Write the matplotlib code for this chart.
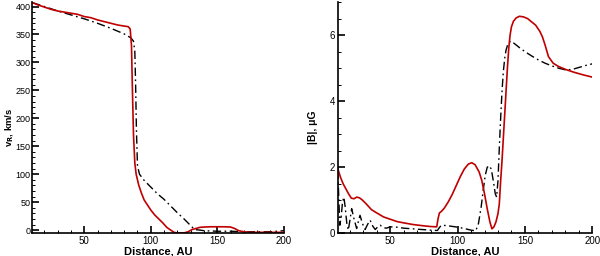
import numpy as np
import matplotlib
matplotlib.use('Agg')
import matplotlib.pyplot as plt
from matplotlib.ticker import MultipleLocator

plt.rcParams['font.family'] = ['Liberation Sans', 'DejaVu Sans']

# Left panel: radial velocity, km/s
vr_red_x = [11, 15, 20, 25, 30, 35, 40, 45, 50, 55, 60, 65, 70, 75, 80, 83,
            84.5, 85.5, 86.2, 87, 88, 89, 91, 93, 95, 97.5, 100, 103, 106, 109,
            112, 115, 117.5, 120, 125, 128, 131, 134, 137, 140, 145, 150, 155,
            160, 163, 166, 170, 175, 180, 190, 200]
vr_red_y = [407, 403, 399, 395, 392, 390, 388, 386, 382, 380, 376, 373, 370,
            367, 365, 364, 360, 330, 250, 170, 120, 100, 80, 66, 54, 45, 36,
            27, 20, 13, 5, 0, -4, -5, -5, -3, 1, 3, 5, 5.5, 6, 6, 6, 5.5, 3,
            -1, -3, -4, -4, -4, -4]

vr_black_x = [11, 20, 30, 40, 50, 60, 70, 80, 85, 87, 88, 88.6, 89.2, 90,
              91.5, 95, 100, 105, 110, 115, 120, 125, 130, 133, 137, 140, 150,
              160, 170, 180, 190, 200]
vr_black_y = [407, 400, 392, 385, 378, 370, 361, 351, 344, 338, 320, 260, 180,
              115, 100, 89, 77, 65, 55, 43, 31, 20, 8, 1, 0, -1, -2, -2, -3,
              -3, -3, -1]

# Right panel: magnetic field magnitude, microgauss
b_red_x = [11, 13, 15, 17, 19, 21, 23, 25, 27, 29, 32, 36, 40, 45, 50, 55, 60,
           67, 75, 80, 84.5, 85.5, 86.5, 88, 90, 93, 96, 99, 102, 105, 108,
           110.5, 113, 116, 118, 120, 122, 124, 125.5, 127, 128.5, 130, 131,
           132, 133, 134, 135, 136, 137, 138, 139, 140, 141.5, 143.5, 146, 149,
           152, 155, 158, 161, 163, 165, 167.5, 171, 175, 181, 187, 194, 200]
b_red_y = [1.96, 1.7, 1.5, 1.35, 1.2, 1.07, 1.05, 1.1, 1.08, 1.02, 0.9, 0.72,
           0.62, 0.5, 0.43, 0.36, 0.32, 0.27, 0.23, 0.21, 0.2, 0.45, 0.62,
           0.67, 0.76, 0.95, 1.18, 1.45, 1.72, 1.95, 2.1, 2.14, 2.08, 1.86,
           1.6, 1.2, 0.75, 0.35, 0.14, 0.2, 0.35, 0.6, 0.9, 1.6, 2.2, 2.9,
           3.6, 4.3, 5.0, 5.6, 6.0, 6.25, 6.42, 6.52, 6.57, 6.55, 6.5, 6.4,
           6.3, 6.12, 5.95, 5.7, 5.35, 5.15, 5.05, 4.95, 4.87, 4.79, 4.73]

b_black_x = [11, 11.8, 12.5, 13.5, 14.5, 15.5, 16.5, 17.7, 18.8, 20, 21.3, 23,
             25, 26.2, 27.5, 29.3, 31.3, 33.2, 35, 37, 38.8, 40.7, 42.5, 44.5,
             47, 50, 55, 60, 70, 80, 85, 86.5, 88, 91, 95, 100, 105, 110,
             113.5, 115.5, 117.5, 119, 120.5, 122, 123.5, 125, 126.5, 128, 129,
             130, 131, 132, 133, 134, 135, 136, 137.5, 139.5, 142, 146, 150,
             155, 160, 165, 170, 175, 180, 185, 190, 195, 200]
b_black_y = [1.9, 1.0, 0.25, 0.5, 0.95, 1.1, 0.8, 0.3, 0.1, 0.4, 0.75, 0.45,
             0.15, 0.35, 0.55, 0.3, 0.12, 0.28, 0.4, 0.22, 0.12, 0.2, 0.25,
             0.18, 0.16, 0.2, 0.19, 0.16, 0.13, 0.1, 0.09, 0.18, 0.25, 0.24,
             0.22, 0.19, 0.15, 0.1, 0.08, 0.3, 0.8, 1.3, 1.75, 2.0, 2.05, 1.95,
             1.6, 1.2, 1.1, 1.6, 2.6, 3.5, 4.3, 4.9, 5.3, 5.55, 5.75, 5.82,
             5.75, 5.62, 5.5, 5.37, 5.25, 5.15, 5.07, 5.0, 4.95, 4.96, 5.02,
             5.08, 5.13]

red = '#c00000'
dashdot = (0, (6, 2.5, 1.2, 2.5))

fig = plt.figure(figsize=(6, 2.56), dpi=100)
ax1 = fig.add_axes([0.054, 0.088, 0.419, 0.904])
ax2 = fig.add_axes([0.563, 0.088, 0.424, 0.904])

ax1.plot(vr_black_x, vr_black_y, color='black', lw=1.0, linestyle=dashdot)
ax1.plot(vr_red_x, vr_red_y, color=red, lw=1.2)
ax2.plot(b_black_x, b_black_y, color='black', lw=1.0, linestyle=dashdot)
ax2.plot(b_red_x, b_red_y, color=red, lw=1.2)

ax1.set_xlim(11, 200)
ax1.set_ylim(-6, 408)
ax1.xaxis.set_major_locator(MultipleLocator(50))
ax1.xaxis.set_minor_locator(MultipleLocator(10))
ax1.yaxis.set_major_locator(MultipleLocator(50))
ax1.yaxis.set_minor_locator(MultipleLocator(10))
ax1.set_ylabel('v$_\\mathbf{R}$, km/s', fontsize=6.8, fontweight='bold')
ax1.yaxis.set_label_coords(-0.07, 0.46)

ax2.set_xlim(11, 200)
ax2.set_ylim(0, 7)
ax2.xaxis.set_major_locator(MultipleLocator(50))
ax2.xaxis.set_minor_locator(MultipleLocator(10))
ax2.yaxis.set_major_locator(MultipleLocator(2))
ax2.yaxis.set_minor_locator(MultipleLocator(0.5))
ax2.set_ylabel('|B|, \u03bcG', fontsize=7.5, fontweight='bold')
ax2.yaxis.set_label_coords(-0.078, 0.46)

for ax in (ax1, ax2):
    ax.spines['top'].set_visible(False)
    ax.spines['right'].set_visible(False)
    ax.spines['left'].set_linewidth(1.2)
    ax.spines['bottom'].set_linewidth(1.2)
    ax.tick_params(which='major', direction='in', length=5, width=1.2,
                   labelsize=7, pad=2)
    ax.tick_params(which='minor', direction='in', length=2.5, width=0.7)
    ax.set_xlabel('Distance, AU', fontsize=8, fontweight='bold', labelpad=0)
ax1.tick_params(axis='y', which='major', labelsize=6.5, pad=1.5)

fig.savefig('out.png', dpi=100)
